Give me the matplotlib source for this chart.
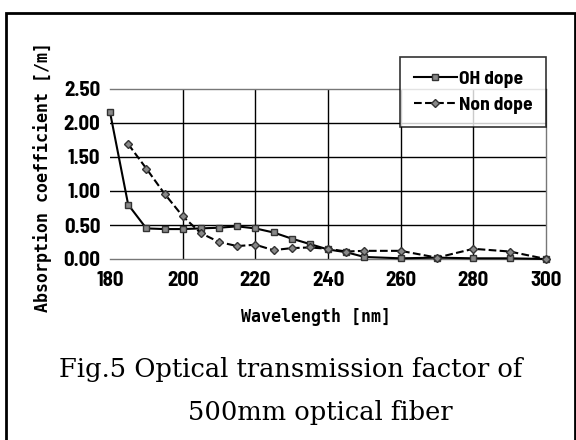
import numpy as np
import matplotlib.pyplot as plt
from matplotlib.patches import Rectangle

# wavelength [nm]
wl_oh = [180, 185, 190, 195, 200, 205, 210, 215, 220, 225, 230, 235, 240, 245, 250, 260, 270, 280, 290, 300]
oh_dope = [2.16, 0.80, 0.45, 0.44, 0.44, 0.45, 0.46, 0.48, 0.45, 0.39, 0.30, 0.22, 0.14, 0.10, 0.03, 0.01, 0.02, 0.01, 0.01, 0.00]

wl_non = [185, 190, 195, 200, 205, 210, 215, 220, 225, 230, 235, 240, 245, 250, 260, 270, 280, 290, 300]
non_dope = [1.69, 1.33, 0.96, 0.63, 0.38, 0.25, 0.19, 0.21, 0.13, 0.16, 0.17, 0.15, 0.11, 0.12, 0.12, 0.02, 0.15, 0.11, 0.00]

x_ticks = [180, 200, 220, 240, 260, 280, 300]
y_ticks = [0.0, 0.5, 1.0, 1.5, 2.0, 2.5]

narrow = ['Barlow Semi Condensed', 'DejaVu Sans']
tick_font = dict(family=narrow, weight='bold', size=15)
mono_font = dict(family='DejaVu Sans Mono', weight='bold', size=12)

fig = plt.figure(figsize=(5.76, 4.4), dpi=100)
ax = fig.add_axes([110 / 576, 1 - 259 / 440, (546 - 110) / 576, (259 - 89) / 440])

ax.plot(wl_oh, oh_dope, '-', color='black', lw=1.5, marker='s', ms=4.5,
        mfc='#888888', mec='#333333', mew=1.0, label='OH dope', clip_on=False, zorder=4)
ax.plot(wl_non, non_dope, '--', color='black', lw=1.5, marker='D', ms=4,
        mfc='#888888', mec='#333333', mew=1.0, label='Non dope', clip_on=False, zorder=4)

ax.set_xlim(180, 300)
ax.set_ylim(0, 2.5)
ax.set_xticks(x_ticks)
ax.set_yticks(y_ticks)
ax.set_xticklabels([str(t) for t in x_ticks], fontdict=tick_font)
ax.set_yticklabels(['%.2f' % t for t in y_ticks], fontdict=tick_font)
ax.tick_params(axis='x', length=0, pad=9)
ax.tick_params(axis='y', length=0, pad=7)

# interior grid solid, edges dotted
ax.grid(True, color='black', lw=1.0)
for gl in [ax.xaxis.get_gridlines()[0], ax.xaxis.get_gridlines()[-1],
           ax.yaxis.get_gridlines()[0], ax.yaxis.get_gridlines()[-1]]:
    gl.set_visible(False)
ax.set_axisbelow(True)
ax.spines['left'].set_visible(False)
for s in ['top', 'bottom', 'right']:
    ax.spines[s].set_linestyle((0, (2, 1)))
    ax.spines[s].set_color('#777777')
    ax.spines[s].set_linewidth(1.0)

fig.text(316 / 576, 1 - 317 / 440, 'Wavelength [nm]', ha='center', va='center', **mono_font)
fig.text(43 / 576, 1 - 177 / 440, 'Absorption coefficient [/m]', ha='center', va='center',
         rotation=90, **mono_font)

leg = ax.legend(loc='upper right', bbox_to_anchor=(546 / 576, 1 - 57 / 440),
                bbox_transform=fig.transFigure, frameon=True, fancybox=False,
                edgecolor='black', handlelength=2.2, handletextpad=0.1,
                borderaxespad=0, borderpad=0.7, labelspacing=0.4,
                prop=dict(family=narrow, weight='bold', size=14))
leg.get_frame().set_linewidth(1.2)

# caption
cap_font = dict(family='DejaVu Serif', size=18.5)
fig.text(291 / 576, 1 - 377 / 440, 'Fig.5 Optical transmission factor of',
         ha='center', va='baseline', **cap_font)
fig.text(320 / 576, 1 - 420 / 440, '500mm optical fiber',
         ha='center', va='baseline', **cap_font)

# outer frame
fig.patches.append(Rectangle((6 / 576, -0.05), (575 - 6) / 576, 1.05 - 13 / 440,
                             transform=fig.transFigure, fill=False,
                             edgecolor='black', lw=2.0))

fig.savefig('out.png', dpi=100, facecolor='white')
